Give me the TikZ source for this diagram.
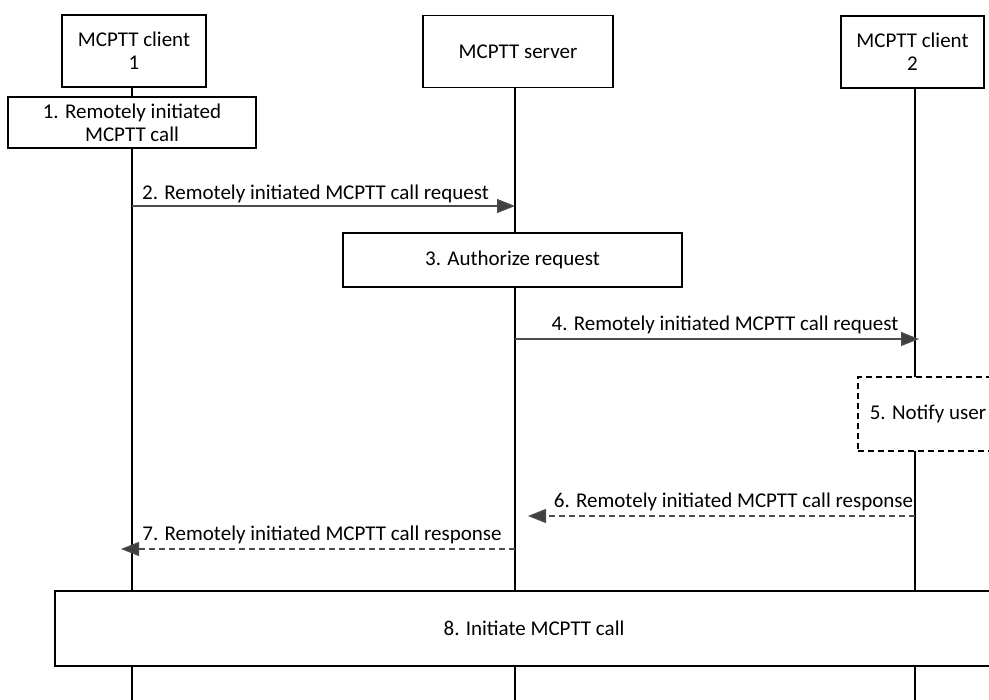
\documentclass[tikz,border=0pt]{standalone}
\usepackage{fontspec}
\setmainfont{Carlito}
\usetikzlibrary{arrows.meta}

\begin{document}
\begin{tikzpicture}[
  x=1pt,y=-1pt,
  font=\fontsize{21}{23}\selectfont,
  entity/.style={draw,line width=1.2pt,fill=white,align=center,inner sep=0pt,minimum height=72pt},
  action/.style={draw,line width=1.2pt,fill=white,align=center,inner sep=0pt},
  life/.style={line width=1.2pt},
  msg/.style={line width=1.2pt,draw=black!70,-{Triangle[length=18pt,width=14pt,fill=black!75]}},
  reply/.style={msg,dash pattern=on 6pt off 4pt}
]
  \useasboundingbox (0,0) rectangle (989,700);

  % participants
  \node[entity,minimum width=144pt] (cl1) at (134,51) {MCPTT client\\1};
  \node[entity,minimum width=190pt] (srv) at (518,51.5) {MCPTT server};
  \node[entity,minimum width=143pt] (cl2) at (912.5,52) {MCPTT client\\2};

  % lifelines
  \coordinate (end1) at (132,700);
  \coordinate (end2) at (515,700);
  \coordinate (end3) at (915,700);
  \draw[life] (cl1.south -| end1) -- (end1);
  \draw[life] (srv.south -| end2) -- (end2);
  \draw[life] (cl2.south -| end3) -- (end3);

  % local steps
  \node[action,minimum width=248pt,minimum height=51pt] (s1) at (132,122.5) {1. Remotely initiated\\MCPTT call};
  \node[action,minimum width=339pt,minimum height=54pt] (s3) at (512.5,260) {3. Authorize request};
  \node[action,dash pattern=on 6pt off 4pt,minimum width=140pt,minimum height=74pt] (s5) at (928,414) {5. Notify user};
  \node[action,minimum width=958pt,minimum height=75pt] (s8) at (534,628.5) {8. Initiate MCPTT call};

  % messages
  \coordinate (m2a) at (132,206);  \coordinate (m2b) at (515,206);
  \coordinate (m4a) at (515,339);  \coordinate (m4b) at (919,339);
  \coordinate (m6a) at (915,516);  \coordinate (m6b) at (528,516);
  \coordinate (m7a) at (515,549);  \coordinate (m7b) at (121,549);

  \draw[msg] (m2a) -- node[above,xshift=-8pt,yshift=-1pt]{2. Remotely initiated MCPTT call request} (m2b);
  \draw[msg] (m4a) -- node[above,xshift=8pt,yshift=1pt]{4. Remotely initiated MCPTT call request} (m4b);
  \draw[reply] (m6a) -- node[above,xshift=12pt,yshift=1pt]{6. Remotely initiated MCPTT call response} (m6b);
  \draw[reply] (m7a) -- node[above,xshift=4pt,yshift=1pt]{7. Remotely initiated MCPTT call response} (m7b);
\end{tikzpicture}
\end{document}
